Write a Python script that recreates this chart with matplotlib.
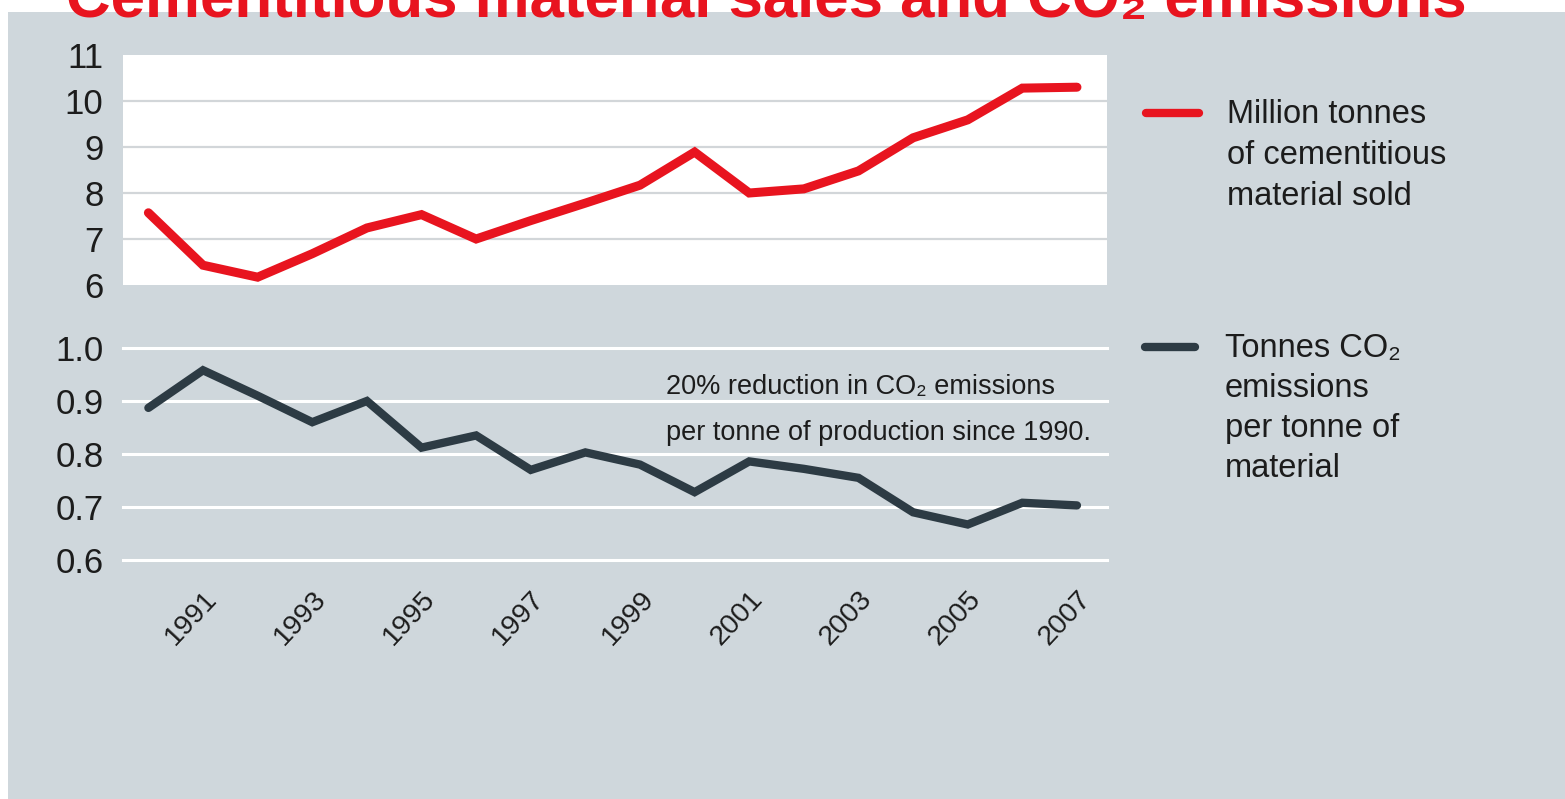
#!/usr/bin/env python3
# Cementitious material sales vs CO2 intensity, two stacked panels sharing the year axis

import matplotlib
matplotlib.use("Agg")
import matplotlib.pyplot as plt
from matplotlib.lines import Line2D
from matplotlib.patches import Rectangle
from matplotlib.transforms import ScaledTranslation

plt.rcParams['font.family'] = ['Liberation Sans', 'DejaVu Sans']

# Data
years = list(range(1990, 2008))
sales_mt = [7.57, 6.43, 6.17, 6.68, 7.24, 7.53, 7.0, 7.4, 7.78, 8.17,
            8.89, 8.0, 8.09, 8.48, 9.2, 9.59, 10.28, 10.3]
co2_per_t = [0.887, 0.958, 0.91, 0.86, 0.90, 0.812, 0.835, 0.77, 0.803, 0.78,
             0.728, 0.786, 0.772, 0.755, 0.69, 0.667, 0.708, 0.703]
year_ticks = list(range(1991, 2008, 2))
sales_ticks = [6, 7, 8, 9, 10, 11]
co2_ticks = [0.6, 0.7, 0.8, 0.9, 1.0]

title = "Cementitious material sales and CO\u2082 emissions"
sales_legend = ["Million tonnes", "of cementitious", "material sold"]
co2_legend = ["Tonnes CO\u2082", "emissions", "per tonne of", "material"]
note = ["20% reduction in CO\u2082 emissions", "per tonne of production since 1990."]

# Colours
RED = "#e8141f"
DARK = "#2d3b44"
BG = "#cfd7dc"
TXT = "#1c1c1c"

W, H = 1565, 799
fig = plt.figure(figsize=(W / 100, H / 100), dpi=100)
fig.patch.set_facecolor("white")

def fx(px):
    return px / W

def fy(py):
    return 1 - py / H

# grey panel behind everything
fig.add_artist(Rectangle((fx(8), 0), 1 - fx(8), fy(12), transform=fig.transFigure,
                         facecolor=BG, edgecolor="none", zorder=0))

xlim = (1989.535, 2007.55)

# Upper panel: sales
ax1 = fig.add_axes([fx(123), fy(285), fx(1107) - fx(123), fy(55) - fy(285)])
ax1.set_facecolor("white")
ax1.plot(years, sales_mt, color=RED, lw=6.5, solid_capstyle="round", solid_joinstyle="miter", zorder=3)
ax1.set_xlim(*xlim)
ax1.set_ylim(6, 11)
ax1.set_yticks(sales_ticks)
ax1.set_xticks([])
for v in sales_ticks[1:-1]:
    ax1.axhline(v, color="#d2d6d9", lw=1.6, zorder=1)
ax1.tick_params(axis="y", length=0, pad=14, labelsize=25, labelcolor=TXT)
for s in ax1.spines.values():
    s.set_visible(False)

# Lower panel: CO2 per tonne
ax2 = fig.add_axes([fx(123), fy(560), fx(1107) - fx(123), fy(348) - fy(560)])
ax2.set_facecolor("none")
for v in co2_ticks:
    ax2.axhline(v, color="white", lw=2.2, zorder=1, clip_on=False)
ax2.plot(years, co2_per_t, color=DARK, lw=6, solid_capstyle="round", solid_joinstyle="miter", zorder=3)
ax2.set_xlim(*xlim)
ax2.set_ylim(0.6, 1.0)
ax2.set_yticks(co2_ticks)
ax2.set_yticklabels([f"{v:.1f}" for v in co2_ticks])
ax2.set_xticks(year_ticks)
ax2.set_xticklabels([str(y) for y in year_ticks], rotation=47, ha="right", va="top")
ax2.tick_params(axis="y", length=0, pad=14, labelsize=25, labelcolor=TXT)
ax2.tick_params(axis="x", length=0, pad=19, labelsize=20.5, labelcolor=TXT)
shift = ScaledTranslation(19 / 100, 0, fig.dpi_scale_trans)
for lab in ax2.get_xticklabels():
    lab.set_transform(lab.get_transform() + shift)
for s in ax2.spines.values():
    s.set_visible(False)

# Note inside lower panel
for i, line in enumerate(note):
    fig.text(fx(666), fy(394 + i * 46), line, ha="left", va="baseline",
             fontsize=19.5, color=TXT)

# Legend on the right
fig.add_artist(Line2D([fx(1146), fx(1199)], [fy(113), fy(113)], transform=fig.transFigure,
                      color=RED, lw=6, solid_capstyle="round"))
for i, line in enumerate(sales_legend):
    fig.text(fx(1227), fy(123 + i * 41), line, ha="left", va="baseline",
             fontsize=23.5, color=TXT)

fig.add_artist(Line2D([fx(1145), fx(1195)], [fy(347), fy(347)], transform=fig.transFigure,
                      color=DARK, lw=6, solid_capstyle="round"))
for i, line in enumerate(co2_legend):
    fig.text(fx(1225), fy(357 + i * 40), line, ha="left", va="baseline",
             fontsize=23.5, color=TXT)

# Title, cut off at the top as in the source
fig.text(fx(66), fy(17), title, ha="left", va="baseline", fontsize=44.5,
         fontweight="bold", color=RED)

fig.savefig("out.png", dpi=100, facecolor=fig.get_facecolor())
print("saved out.png")
